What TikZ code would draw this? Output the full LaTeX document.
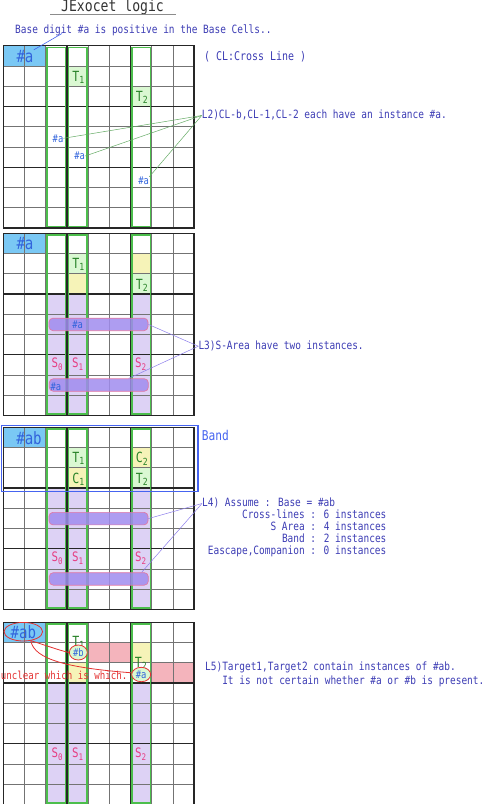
\documentclass[tikz,border=0pt]{standalone}
\usepackage{fontspec}
\newfontfamily\gothic[FakeStretch=0.83]{DejaVu Sans Mono}
\usetikzlibrary{positioning,shapes.geometric}

\definecolor{baseblue}{RGB}{122,200,244}
\definecolor{lavender}{RGB}{221,210,245}
\definecolor{cyellow}{RGB}{246,243,184}
\definecolor{tcellgreen}{RGB}{218,248,210}
\definecolor{tpink}{RGB}{244,180,188}
\definecolor{clgreen}{RGB}{76,190,76}
\definecolor{tgreen}{RGB}{40,130,40}
\definecolor{spink}{RGB}{230,60,130}
\definecolor{noteblue}{RGB}{60,60,180}
\definecolor{digitblue}{RGB}{50,100,220}
\definecolor{barfill}{RGB}{160,140,238}
\definecolor{barline}{RGB}{225,120,165}
\definecolor{bandblue}{RGB}{70,100,240}
\definecolor{linegreen}{RGB}{100,170,100}
\definecolor{linepurple}{RGB}{140,125,235}
\definecolor{markred}{RGB}{228,50,50}

\begin{document}
\begin{tikzpicture}[x=1pt, y=-1pt, font=\gothic,
    thinline/.style={black!55, line width=0.7pt},
    boxline/.style={black!85, line width=1.3pt, line cap=rect},
    crossline/.style={clgreen, line width=1.6pt},
    sarea/.style={draw=barline, fill=barfill, fill opacity=0.85, rounded corners=4pt, line width=0.7pt, minimum width=99pt, minimum height=12.5pt, inner sep=0pt},
    note/.style={text=noteblue, inner sep=0pt, text height=8.8pt, text depth=3.2pt, font=\gothic\fontsize{11.4}{13}\selectfont},
    digit/.style={text=digitblue, inner sep=0pt, font=\gothic\fontsize{10.6}{12}\selectfont},
    basedigit/.style={text=digitblue, inner sep=0pt, font=\gothic\fontsize{17}{17}\selectfont},
    target/.style={text=tgreen, inner sep=0pt, anchor=base, font=\gothic\fontsize{14}{14}\selectfont},
    sname/.style={text=spink, inner sep=0pt, anchor=base, font=\gothic\fontsize{13}{13}\selectfont},
    guess/.style={ellipse, draw=markred, line width=0.8pt, inner sep=0pt}]
    \useasboundingbox (0,0) rectangle (492,804);

    % Title
    \node[text=black!80, inner sep=0pt, anchor=base west, font=\gothic\fontsize{15.8}{16}\selectfont] (title) at (61,11.7) {JExocet logic};
    \draw[black!45, line width=1.3pt] (50,14.3) -- (176,14.3);

    % Base cells
    \foreach \g in {45.7,233.3,427.3,622.3}
    {
        \fill[baseblue] (3.3,\g) rectangle (45.7,\g+20.25);
    }

    % S areas
    \foreach \g in {233.3,427.3,622.3}
    {
        \foreach \x in {45.7,66.9,130.5}
        {
            \fill[lavender] (\x,\g+60.75) rectangle (\x+21.2,\g+182.25);
        }
    }

    % Target and companion cells
    \fill[tcellgreen] (66.9,65.95) rectangle (88.1,86.2);
    \fill[tcellgreen] (130.5,86.2) rectangle (151.7,106.45);
    \foreach \g in {233.3,427.3}
    {
        \fill[tcellgreen] (66.9,\g+20.25) rectangle (88.1,\g+40.5);
        \fill[cyellow] (66.9,\g+40.5) rectangle (88.1,\g+60.75);
        \fill[cyellow] (130.5,\g+20.25) rectangle (151.7,\g+40.5);
        \fill[tcellgreen] (130.5,\g+40.5) rectangle (151.7,\g+60.75);
    }
    \fill[cyellow] (130.5,642.55) rectangle (151.7,662.8);
    \fill[cyellow] (66.9,662.8) rectangle (88.1,683.05);
    \fill[tpink] (88.1,642.55) rectangle (130.5,662.8);
    \fill[tpink] (151.7,662.8) rectangle (194.1,683.05);

    % Grids and cross lines
    \foreach \g in {45.7,233.3,427.3,622.3}
    {
        \foreach \i in {0,...,9}
        {
            \draw[thinline] (3.3+21.2*\i,\g) -- (3.3+21.2*\i,\g+182.25);
            \draw[thinline] (3.3,\g+20.25*\i) -- (194.1,\g+20.25*\i);
        }
        \foreach \i in {0,3,6,9}
        {
            \draw[boxline] (3.3+21.2*\i,\g) -- (3.3+21.2*\i,\g+182.25);
            \draw[boxline] (3.3,\g+20.25*\i) -- (194.1,\g+20.25*\i);
        }
        \foreach \x in {45.7,66.9,130.5}
        {
            \draw[crossline] (\x+1.4,\g+1.8) rectangle (\x+19.8,\g+180.7);
        }
    }

    % First grid: one #a in each cross line
    \node[basedigit] (base1) at (25,56.3) {\#a};
    \node[note, anchor=base west] (basetxt) at (15,33.5) {Base digit \#a is positive in the Base Cells..};
    \draw[bandblue, line width=0.6pt] (base1.north east) -- ([xshift=47pt]basetxt.base west);
    \node[note, font=\gothic\fontsize{12}{12}\selectfont, anchor=base west] (cltxt) at (204,60.5) {( CL:Cross Line )};
    \node[target] (t1a) at (78.5,81.2) {T\textsubscript{1}};
    \node[target] (t2a) at (142.1,101.5) {T\textsubscript{2}};
    \node[digit] (cl0) at (58,138.3) {\#a};
    \node[digit] (cl1) at (79.7,156) {\#a};
    \node[digit] (cl2) at (143.7,181) {\#a};
    \node[note, anchor=base west] (l2) at (201.7,118.3) {L2)CL-b,CL-1,CL-2 each have an instance \#a.};
    \draw[linegreen, line width=0.5pt] (cl0.east) -- (l2.west);
    \draw[linegreen, line width=0.5pt] (cl1.east) -- (l2.west);
    \draw[linegreen, line width=0.5pt] (cl2.north east) -- (l2.west);

        % Second grid: S area
        \node[basedigit] (base2) at (25,243.9) {\#a};
        \node[target] (t1b) at (78.5,268.8) {T\textsubscript{1}};
        \node[target] (t2b) at (142.1,289) {T\textsubscript{2}};
        \node[sarea] (bar1) at (98.5,324.4) {};
        \node[sarea] (bar2) at (98.8,385) {};
        \node[digit] (sa1) at (77.7,325) {\#a};
        \node[digit] (sa2) at (56,386.7) {\#a};
        \node[sname] (s0b) at (57.5,367.9) {S\textsubscript{0}};
        \node[sname] (s1b) at (78,367.9) {S\textsubscript{1}};
        \node[sname] (s2b) at (140.8,367.9) {S\textsubscript{2}};
        \node[note, anchor=base west] (l3) at (198.3,349) {L3)S-Area have two instances.};
        \draw[linepurple, line width=0.5pt] (bar1.east) -- (l3.west);
        \draw[linepurple, line width=0.5pt] ([xshift=-20pt]bar2.north east) -- (l3.west);

            % Third grid: band and counts
            \node[basedigit] (base3) at (29,437.9) {\#ab};
            \node[draw=bandblue, line width=1.4pt, minimum width=196.4pt, minimum height=66pt, inner sep=0pt, anchor=north west] (band) at (0.9,424.7) {};
            \node[text=bandblue, inner sep=0pt, font=\gothic\fontsize{13.5}{13.5}\selectfont, below right=5.7pt and 3pt of band.north east] (bandtxt) {Band};
            \node[target] (t1c) at (78.5,462.8) {T\textsubscript{1}};
            \node[target] (c1c) at (78.5,483) {C\textsubscript{1}};
            \node[target] (c2c) at (142.1,462.8) {C\textsubscript{2}};
            \node[target] (t2c) at (142.1,483) {T\textsubscript{2}};
            \node[sarea] (bar3) at (98.5,518.6) {};
            \node[sarea] (bar4) at (98.8,578.9) {};
            \node[sname] (s0c) at (57.5,561.9) {S\textsubscript{0}};
            \node[sname] (s1c) at (78,561.9) {S\textsubscript{1}};
            \node[sname] (s2c) at (140.8,561.9) {S\textsubscript{2}};
            \node[note, anchor=base west] (l4) at (202,506.3) {L4) Assume : Base = \#ab};
            \node[note, below right=0pt and 39.9pt of l4.south west] (l4cl) {Cross-lines : 6 instances};
            \node[note, below right=12pt and 68.4pt of l4.south west] (l4sa) {S Area : 4 instances};
            \node[note, below right=24pt and 79.8pt of l4.south west] (l4band) {Band : 2 instances};
            \node[note, below right=36pt and 5.7pt of l4.south west] (l4ec) {Eascape,Companion : 0 instances};
            \draw[linepurple, line width=0.5pt] (bar3.east) -- (l4.west);
            \draw[linepurple, line width=0.5pt] ([xshift=-7pt]bar4.north east) -- (l4.west);

                % Fourth grid: which target holds which digit
                \node[target] (t1d) at (78.5,646.7) {T\textsubscript{1}};
                \node[target] (t2d) at (141,667.5) {T\textsubscript{2}};
                \node[basedigit, guess, minimum width=38.6pt, minimum height=16.6pt] (ab4) at (23.3,631.7) {\#ab};
                \node[digit, guess, fill=tcellgreen, minimum width=18pt, minimum height=15pt] (b4) at (78.3,652.5) {\#b};
                \node[digit, guess, fill=tcellgreen, minimum width=19pt, minimum height=14.4pt] (a4) at (141.2,674.5) {\#a};
                \node[text=markred, inner sep=0pt, anchor=base west, font=\gothic\fontsize{11}{11}\selectfont] (unclear) at (0.7,679.5) {unclear which is which.};
                \draw[markred, line width=0.8pt] (ab4.-50) .. controls (45,645) and (58,650) .. (b4.west);
                \draw[markred, line width=0.8pt] (ab4.-50) .. controls (34,660) and (70,668) .. (a4.170);
                \node[sname] (s0d) at (57.5,757.5) {S\textsubscript{0}};
                \node[sname] (s1d) at (78,757.5) {S\textsubscript{1}};
                \node[sname] (s2d) at (140.8,757.5) {S\textsubscript{2}};
                \node[note, anchor=base west] (l5) at (205,670.7) {L5)Target1,Target2 contain instances of \#ab.};
                \node[note, below right=1.3pt and 17.1pt of l5.south west] (l5b) {It is not certain whether \#a or \#b is present.};
\end{tikzpicture}
\end{document}
